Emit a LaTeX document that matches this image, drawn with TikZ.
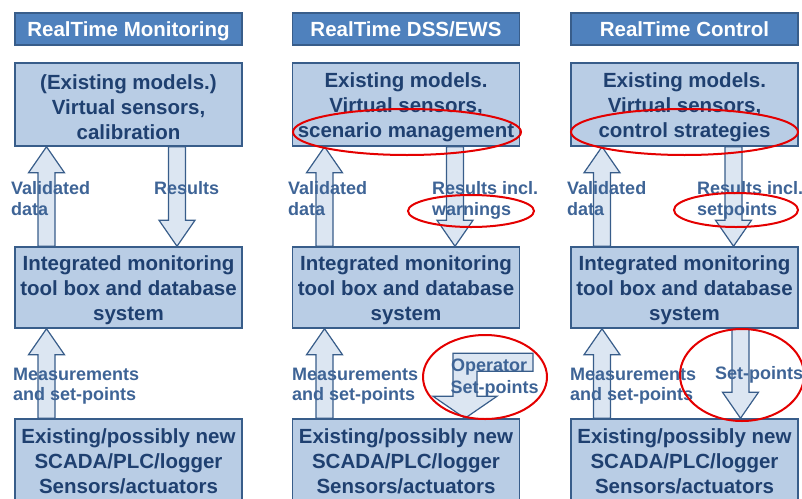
\documentclass[tikz,border=0pt]{standalone}
\usepackage{fontspec}
\setmainfont{Liberation Sans}
\usetikzlibrary{calc}
\definecolor{titlefill}{RGB}{79,129,189}
\definecolor{boxborder}{RGB}{56,93,138}
\definecolor{boxfill}{RGB}{185,205,229}
\definecolor{arrowfill}{RGB}{220,230,242}
\definecolor{boxtext}{RGB}{31,64,112}
\definecolor{labeltext}{RGB}{62,100,150}
\definecolor{markred}{RGB}{228,0,0}
\newcommand\blkup[3]{% center x, lower anchor, upper anchor
  \draw[blockarrow] let \p1=(#2), \p2=(#3) in
    (#1pt-8.5pt,\y1) -- (#1pt-8.5pt,\y2-26pt) -- (#1pt-18pt,\y2-26pt) -- (#1pt,\y2)
    -- (#1pt+18pt,\y2-26pt) -- (#1pt+8.5pt,\y2-26pt) -- (#1pt+8.5pt,\y1) -- cycle;}
\newcommand\blkdown[3]{% center x, upper anchor, lower anchor
  \draw[blockarrow] let \p1=(#2), \p2=(#3) in
    (#1pt-8.5pt,\y1) -- (#1pt-8.5pt,\y2+26pt) -- (#1pt-18pt,\y2+26pt) -- (#1pt,\y2)
    -- (#1pt+18pt,\y2+26pt) -- (#1pt+8.5pt,\y2+26pt) -- (#1pt+8.5pt,\y1) -- cycle;}
\begin{document}
\begin{tikzpicture}[x=1pt,y=-1pt,
  titlebox/.style={draw=boxborder, line width=1.5pt, fill=titlefill, text=white,
    font=\fontsize{20.5}{24}\selectfont\bfseries, minimum width=227pt, minimum height=32pt,
    inner sep=0pt, text height=14.7pt, text depth=0pt},
  contentbox/.style={draw=boxborder, line width=1.5pt, fill=boxfill, minimum width=227pt, inner sep=0pt},
  boxwords/.style={text=boxtext, font=\fontsize{20.5}{25}\selectfont\bfseries, align=center, inner sep=0pt},
  blockarrow/.style={draw=boxborder, line width=1.2pt, fill=arrowfill, line join=miter},
  flowlabel/.style={text=labeltext, font=\fontsize{18}{21}\selectfont\bfseries, inner sep=0pt, anchor=base west},
  ring/.style={draw=markred, line width=2pt}
]
\useasboundingbox (0,0) rectangle (802,498);
\clip (0,0) rectangle (802,498);

% ---- column 1 ----
\node[titlebox] (t1) at (128.5,29) {RealTime Monitoring};
\node[contentbox, minimum height=83pt] (m1) at (128.5,104.5) {};
\node[boxwords] (m1t) at ([yshift=-2.5pt]m1.center) {(Existing models.)\\Virtual sensors,\\calibration};
\node[contentbox, minimum height=81pt] (i1) at (128.5,287.5) {};
\node[boxwords] (i1t) at ([yshift=-2.5pt]i1.center) {Integrated monitoring\\tool box and database\\system};
\node[contentbox, minimum height=84pt] (b1) at (128.5,461) {};
\node[boxwords] (b1t) at (b1.center) {Existing/possibly new\\SCADA/PLC/logger\\Sensors/actuators};

% ---- column 2 ----
\node[titlebox] (t2) at (406,29) {RealTime DSS/EWS};
\node[contentbox, minimum height=83pt] (m2) at (406,104.5) {};
\node[boxwords] (m2t) at ([yshift=-2.5pt]m2.center) {Existing models.\\Virtual sensors,\\scenario management};
\node[contentbox, minimum height=81pt] (i2) at (406,287.5) {};
\node[boxwords] (i2t) at ([yshift=-2.5pt]i2.center) {Integrated monitoring\\tool box and database\\system};
\node[contentbox, minimum height=84pt] (b2) at (406,461) {};
\node[boxwords] (b2t) at (b2.center) {Existing/possibly new\\SCADA/PLC/logger\\Sensors/actuators};

% ---- column 3 ----
\node[titlebox] (t3) at (684.5,29) {RealTime Control};
\node[contentbox, minimum height=83pt] (m3) at (684.5,104.5) {};
\node[boxwords] (m3t) at ([yshift=-2.5pt]m3.center) {Existing models.\\Virtual sensors,\\control strategies};
\node[contentbox, minimum height=81pt] (i3) at (684.5,287.5) {};
\node[boxwords] (i3t) at ([yshift=-2.5pt]i3.center) {Integrated monitoring\\tool box and database\\system};
\node[contentbox, minimum height=84pt] (b3) at (684.5,461) {};
\node[boxwords] (b3t) at (b3.center) {Existing/possibly new\\SCADA/PLC/logger\\Sensors/actuators};

% ---- block arrows ----
\blkup{46.5}{i1.north}{m1.south}
\blkdown{177}{m1.south}{i1.north}
\blkup{46.5}{b1.north}{i1.south}

\blkup{324.5}{i2.north}{m2.south}
\blkdown{455}{m2.south}{i2.north}
\blkup{324.5}{b2.north}{i2.south}
\draw[blockarrow] let \p1=(b2.north) in
  (453,\y1+65pt) -- (533,\y1+65pt) -- (533,\y1+47pt) -- (477,\y1+47pt) -- (477,\y1+22pt)
  -- (497,\y1+22pt) -- (465,\y1) -- (433,\y1+22pt) -- (453,\y1+22pt) -- cycle;

\blkup{602}{i3.north}{m3.south}
\blkdown{733.5}{m3.south}{i3.north}
\blkup{602}{b3.north}{i3.south}
\blkdown{740.5}{i3.south}{b3.north}

% ---- labels ----
\node[flowlabel] (v1a) at (11,194) {Validated};
\node[flowlabel] (v1b) at (11,215) {data};
\node[flowlabel] (r1a) at (154,194) {Results};
\node[flowlabel] (me1a) at (13,380) {Measurements};
\node[flowlabel] (me1b) at (13,400) {and set-points};

\node[flowlabel] (v2a) at (288,194) {Validated};
\node[flowlabel] (v2b) at (288,215) {data};
\node[flowlabel] (r2a) at (432,194) {Results incl.};
\node[flowlabel] (r2b) at (432,215) {warnings};
\node[flowlabel] (me2a) at (292,380) {Measurements};
\node[flowlabel] (me2b) at (292,400) {and set-points};
\node[flowlabel, anchor=base] (op2a) at (489,371) {Operator};
\node[flowlabel, anchor=base] (op2b) at (494.5,393) {Set-points};

\node[flowlabel] (v3a) at (567,194) {Validated};
\node[flowlabel] (v3b) at (567,215) {data};
\node[flowlabel] (r3a) at (697,194) {Results incl.};
\node[flowlabel] (r3b) at (697,215) {setpoints};
\node[flowlabel] (me3a) at (570,380) {Measurements};
\node[flowlabel] (me3b) at (570,400) {and set-points};
\node[flowlabel] (sp3) at (715,379) {Set-points};

% ---- red marks ----
\draw[ring] (407,132) ellipse [x radius=114pt, y radius=23pt];
\draw[ring] (684.5,132) ellipse [x radius=113.5pt, y radius=23pt];
\draw[ring] (471,211) ellipse [x radius=63pt, y radius=16pt];
\draw[ring] (736,210) ellipse [x radius=62pt, y radius=17pt];
\draw[ring] (485,377) ellipse [x radius=62pt, y radius=42pt];
\draw[ring] (742,375) ellipse [x radius=62pt, y radius=46pt];
\end{tikzpicture}
\end{document}
